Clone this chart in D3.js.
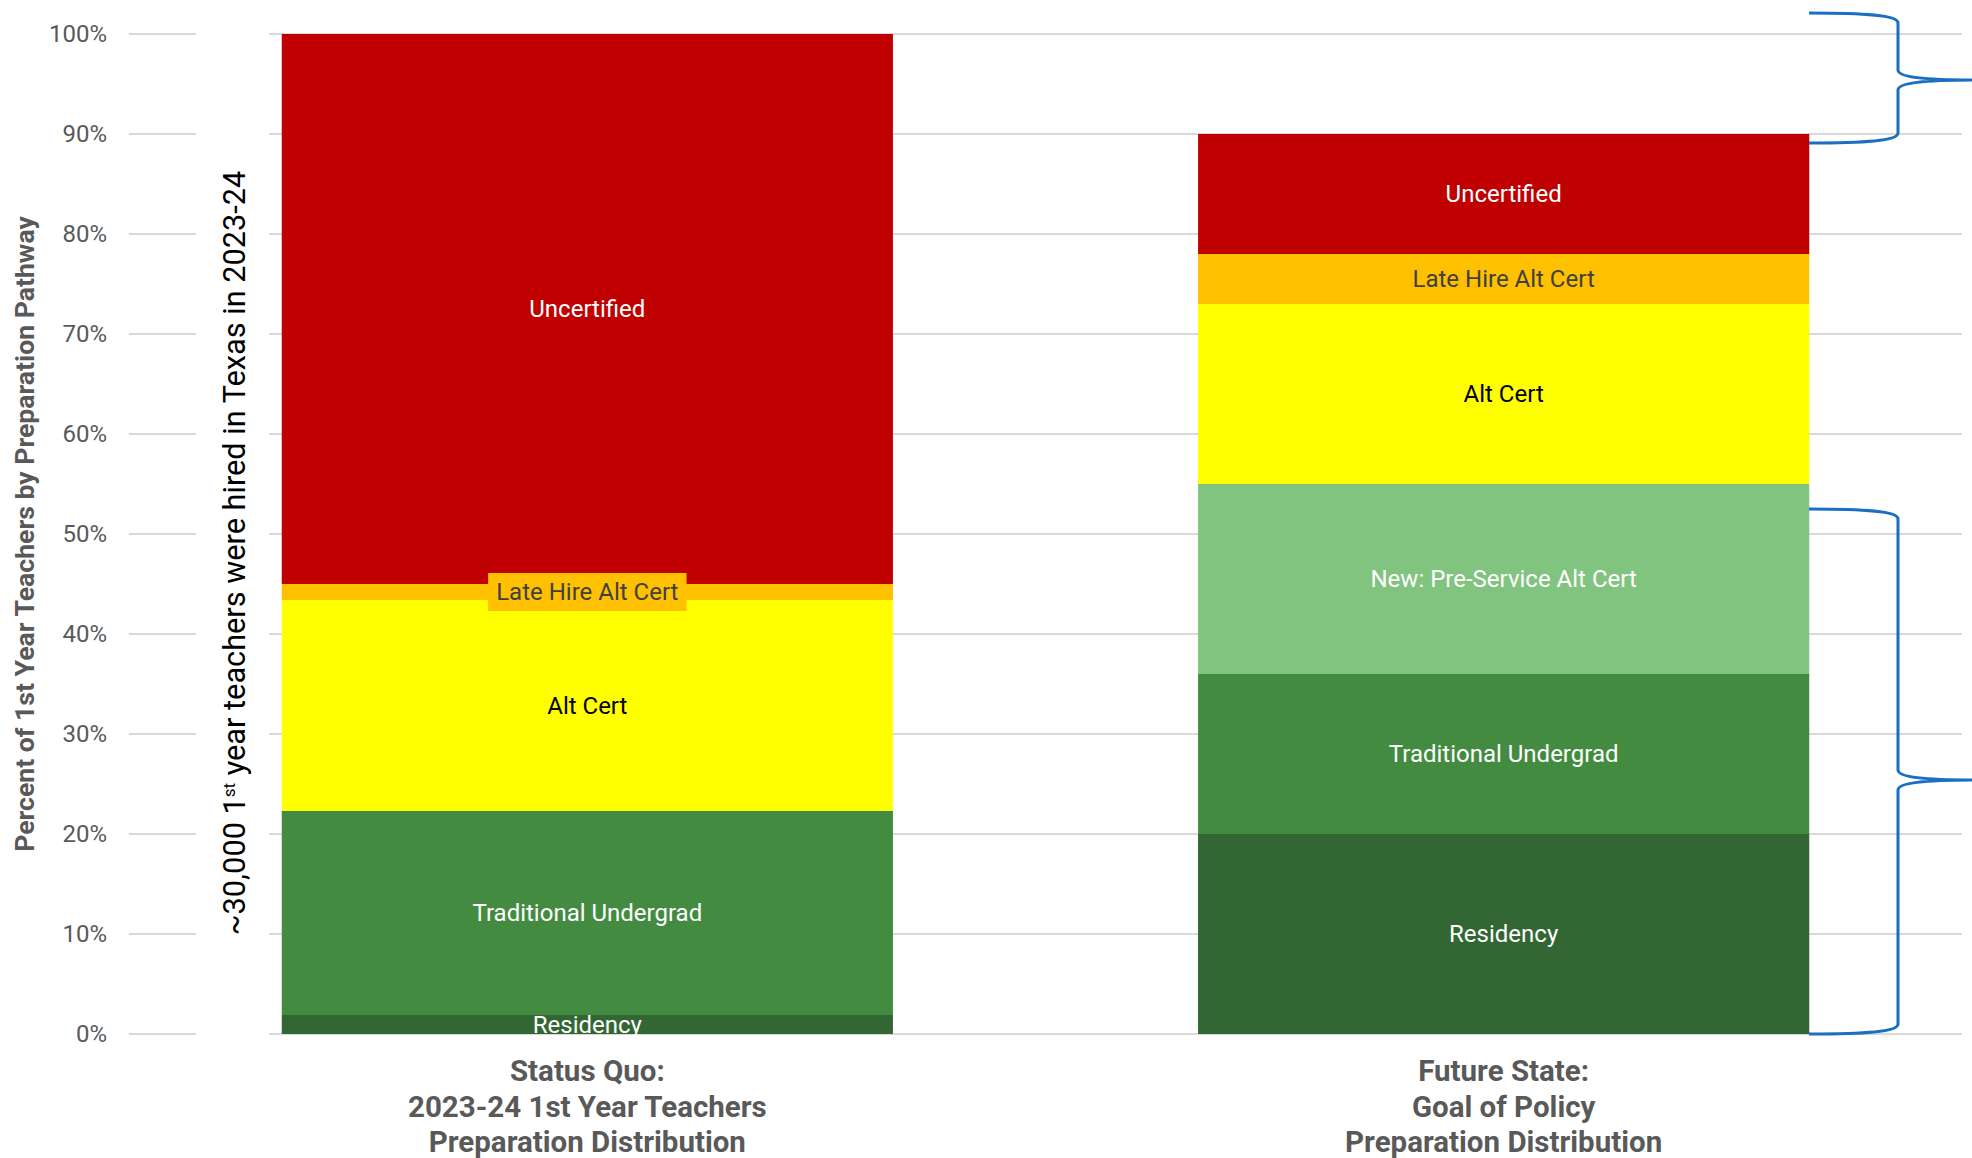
<!DOCTYPE html>
<html>
  <head>
    <meta charset="utf-8">
    <title>Teacher Preparation Pathways</title>
    <style>
      body { margin: 0; background: #fff; }
      svg { display: block; font-family: Roboto, "Open Sans", sans-serif; }
      .tick-label { font-size: 24px; fill: #595959; }
      .seg-label { font-size: 24px; }
      .cat-label { font-size: 29.5px; font-weight: bold; fill: #595959; }
      .y-title { font-size: 24px; font-weight: bold; fill: #595959; }
      .note { font-size: 27px; fill: #000; }
    </style>
  </head>
  <body>
    <div id="chart"></div>
    <script src="https://cdn.jsdelivr.net/npm/d3@7"></script>
    <script>
      // data
      var categories = ['Status Quo', 'Future State'];
      var categoryLines = [
        ['Status Quo:', '2023-24 1st Year Teachers', 'Preparation Distribution'],
        ['Future State:', 'Goal of Policy', 'Preparation Distribution']
      ];
      var seriesNames = ['Residency', 'Traditional Undergrad', 'New: Pre-Service Alt Cert',
                         'Alt Cert', 'Late Hire Alt Cert', 'Uncertified'];
      var statusQuo   = [1.9, 20.4, 0, 21.1, 1.6, 55.0];
      var futureState = [20, 16, 19, 18, 5, 12];
      var yTicks = [0, 10, 20, 30, 40, 50, 60, 70, 80, 90, 100];
      // brace annotations in percent units: [top, bottom, tip]
      var braces = [[102.1, 89.1, 95.4], [52.5, 0, 25.4]];

      var colors = ['#326632', '#438B41', '#81C47F', '#FFFF00', '#FFC000', '#C00000'];
      var textColors = ['#fff', '#fff', '#fff', '#000', '#404040', '#fff'];

      var width = 1972, height = 1158;

      var svg = d3.select('#chart').append('svg')
        .attr('width', width)
        .attr('height', height);

      var y = d3.scaleLinear().domain([0, 100]).range([1034, 34]);
      var x = d3.scaleBand().domain(categories)
        .range([129, 1962])
        .paddingInner(0.333)
        .paddingOuter(0.1667);

      // gridlines
      svg.append('g').selectAll('line')
        .data(yTicks)
        .enter().append('line')
        .attr('x1', 129).attr('x2', 1962)
        .attr('y1', function(d) { return y(d); })
        .attr('y2', function(d) { return y(d); })
        .attr('stroke', '#D9D9D9')
        .attr('stroke-width', 2);

      svg.append('g').selectAll('text')
        .data(yTicks)
        .enter().append('text')
        .attr('class', 'tick-label')
        .attr('x', 107)
        .attr('y', function(d) { return y(d); })
        .attr('dy', '0.35em')
        .attr('text-anchor', 'end')
        .text(function(d) { return d + '%'; });

      // table for stacking
      var rows = categories.map(function(c, i) {
        var vals = i === 0 ? statusQuo : futureState;
        var r = { category: c };
        seriesNames.forEach(function(s, j) { r[s] = vals[j]; });
        return r;
      });
      var stack = d3.stack().keys(seriesNames);
      var layers = stack(rows);

      var bars = svg.append('g');
      layers.forEach(function(layer, si) {
        layer.forEach(function(d) {
          var h = y(d[0]) - y(d[1]);
          if (h <= 0) return;
          bars.append('rect')
            .attr('x', x(d.data.category))
            .attr('y', y(d[1]))
            .attr('width', x.bandwidth())
            .attr('height', h)
            .attr('fill', colors[si]);
        });
      });

      // segment labels
      var labels = svg.append('g');
      layers.forEach(function(layer, si) {
        layer.forEach(function(d) {
          var h = y(d[0]) - y(d[1]);
          if (h <= 0) return;
          var cx = x(d.data.category) + x.bandwidth() / 2;
          var cy = (y(d[0]) + y(d[1])) / 2;
          var g = labels.append('g');
          var t = g.append('text')
            .attr('class', 'seg-label')
            .attr('x', cx)
            .attr('y', cy)
            .attr('dy', '0.35em')
            .attr('text-anchor', 'middle')
            .attr('fill', textColors[si])
            .text(seriesNames[si]);
          if (seriesNames[si] === 'Late Hire Alt Cert' && h < 30) {
            var bb = t.node().getBBox();
            g.insert('rect', 'text')
              .attr('x', cx - bb.width / 2 - 8)
              .attr('y', cy - 19)
              .attr('width', bb.width + 16)
              .attr('height', 38)
              .attr('fill', colors[si]);
          }
        });
      });

      // category labels
      categories.forEach(function(c, i) {
        var t = svg.append('text')
          .attr('class', 'cat-label')
          .attr('text-anchor', 'middle');
        categoryLines[i].forEach(function(line, k) {
          t.append('tspan')
            .attr('x', x(c) + x.bandwidth() / 2)
            .attr('y', 1081 + k * 35.5)
            .text(line);
        });
      });

      // y axis title
      var yt = svg.append('text')
        .attr('class', 'y-title')
        .attr('transform', 'translate(25,' + y(50) + ') rotate(-90)')
        .attr('dy', '0.35em')
        .attr('text-anchor', 'middle')
        .text('Percent of 1st Year Teachers by Preparation Pathway');
      var tl = yt.node().getComputedTextLength();
      yt.style('font-size', (24 * 636 / tl) + 'px');

      // note text box (covers gridlines)
      svg.append('rect')
        .attr('x', 196).attr('y', 20)
        .attr('width', 73).attr('height', 1030)
        .attr('fill', '#fff');
      var note = svg.append('text')
        .attr('class', 'note')
        .attr('transform', 'translate(234,553) rotate(-90)')
        .attr('dy', '0.35em')
        .attr('text-anchor', 'middle');
      note.append('tspan').text('~30,000 1');
      note.append('tspan').attr('baseline-shift', 'super').style('font-size', '17px').text('st');
      note.append('tspan').text(' year teachers were hired in Texas in 2023-24');
      var nl = note.node().getComputedTextLength();
      note.style('font-size', (27 * 767 / nl) + 'px');

      // braces
      var bx0 = 1809, bx1 = 1898, btip = 1975;
      braces.forEach(function(b) {
        var y0 = y(b[0]), y1 = y(b[1]), yt = y(b[2]);
        var p = d3.path();
        p.moveTo(bx0, y0);
        p.bezierCurveTo(bx0 + 55, y0, bx1, y0 + 2, bx1, y0 + 10);
        p.lineTo(bx1, yt - 10);
        p.bezierCurveTo(bx1, yt - 3, bx1 + 25, yt, btip, yt);
        p.bezierCurveTo(bx1 + 25, yt, bx1, yt + 3, bx1, yt + 10);
        p.lineTo(bx1, y1 - 10);
        p.bezierCurveTo(bx1, y1 - 2, bx0 + 55, y1, bx0, y1);
        svg.append('path')
          .attr('d', p.toString())
          .attr('fill', 'none')
          .attr('stroke', '#1B6EC2')
          .attr('stroke-width', 3);
      });
    </script>
  </body>
</html>
